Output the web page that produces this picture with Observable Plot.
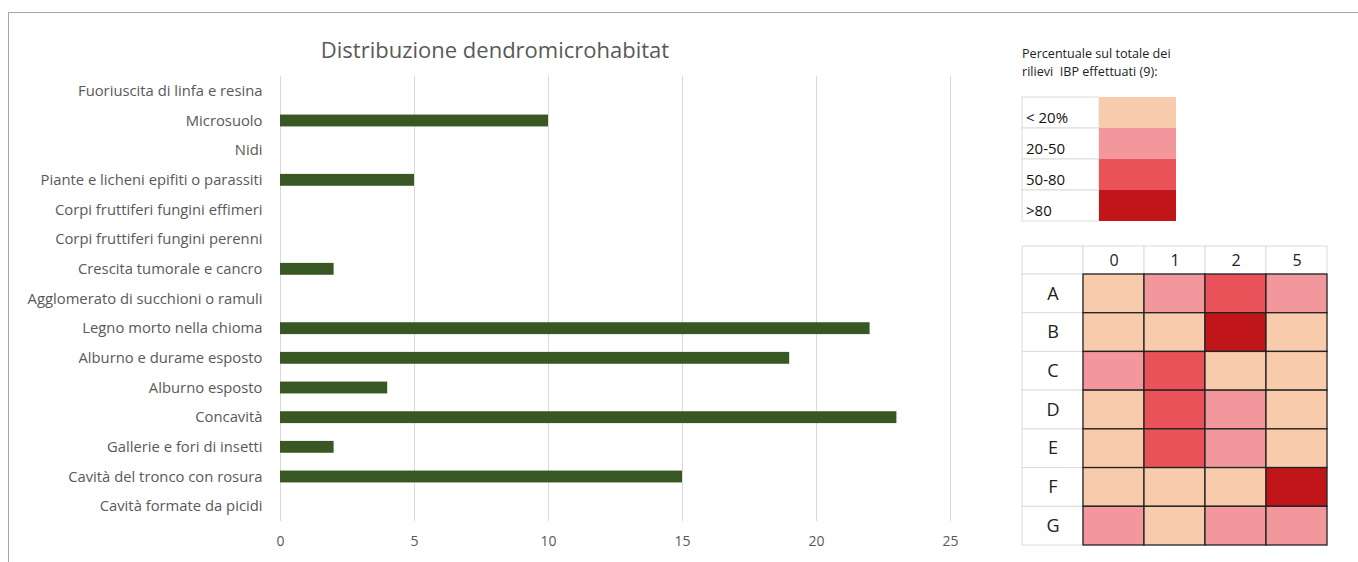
<!DOCTYPE html>
<html><head><meta charset="utf-8">
<script src="https://cdn.jsdelivr.net/npm/d3@7"></script>
<script src="https://cdn.jsdelivr.net/npm/@observablehq/plot@0.6"></script>
<style>
body{margin:0;background:#fff;}
#root{position:relative;width:1358px;height:562px;overflow:hidden;font-family:"Open Sans",sans-serif;background:#fff;}
#frame{position:absolute;left:8px;top:12px;width:1400px;height:600px;border-top:1px solid #a6a6a6;border-left:1px solid #a6a6a6;box-sizing:border-box;}
.abs{position:absolute;}
#title{left:0;width:990px;top:35px;text-align:center;font-size:22px;line-height:28px;color:#595959;}
#note{left:1022px;top:45px;font-size:12.6px;line-height:18px;color:#222;white-space:nowrap;}
svg{overflow:visible;}
</style>
</head><body>
<div id="root">
  <div id="frame"></div>
  <div id="bars" class="abs" style="left:0;top:0"></div>
  <div id="title" class="abs">Distribuzione dendromicrohabitat</div>
  <div id="note" class="abs">Percentuale sul totale dei<br>rilievi&nbsp; IBP effettuati (9):</div>
  <div id="legend" class="abs" style="left:1022px;top:97px"></div>
  <div id="hdr" class="abs" style="left:1022px;top:246px"></div>
  <div id="heat" class="abs" style="left:1022px;top:274px"></div>
</div>
<script>
// ---- data ----
const categories = [
  "Fuoriuscita di linfa e resina",
  "Microsuolo",
  "Nidi",
  "Piante e licheni epifiti o parassiti",
  "Corpi fruttiferi fungini effimeri",
  "Corpi fruttiferi fungini perenni",
  "Crescita tumorale e cancro",
  "Agglomerato di succhioni o ramuli",
  "Legno morto nella chioma",
  "Alburno e durame esposto",
  "Alburno esposto",
  "Concavità",
  "Gallerie e fori di insetti",
  "Cavità del tronco con rosura",
  "Cavità formate da picidi"
];
const counts = [0, 10, 0, 5, 0, 0, 2, 0, 22, 19, 4, 23, 2, 15, 0];
const xTicks = [0, 5, 10, 15, 20, 25];

const legendLabels = ["< 20%", "20-50", "50-80", ">80"];
const legendColors = ["#F8CBAD", "#F2979C", "#E95258", "#C0161A"];

const heatRows = ["A", "B", "C", "D", "E", "F", "G"];
const heatCols = ["0", "1", "2", "5"];
const heatClasses = [
  [0, 1, 2, 1],
  [0, 0, 3, 0],
  [1, 2, 0, 0],
  [0, 2, 1, 0],
  [0, 2, 1, 0],
  [0, 0, 0, 3],
  [1, 0, 1, 1]
];

// ---- bar chart ----
const barData = categories.map((c, i) => ({cat: c, value: counts[i]}));
const bars = Plot.plot({
  width: 1000, height: 562,
  marginLeft: 280, marginRight: 50, marginTop: 76, marginBottom: 41,
  style: {background: "transparent", fontFamily: "Open Sans, sans-serif", fontSize: "14px", color: "#595959", overflow: "visible"},
  x: {domain: [0, 25], ticks: xTicks, tickSize: 0, tickPadding: 15, label: null},
  y: {domain: categories, paddingInner: 0.6, paddingOuter: 0.3, round: false, label: null},
  marks: [
    Plot.gridX(xTicks, {stroke: "#d9d9d9", strokeOpacity: 1}),
    Plot.axisY({tickSize: 0, tickPadding: 18, fontSize: 14.8, label: null}),
    Plot.barX(barData, {x: "value", y: "cat", fill: "#385723"})
  ]
});
document.getElementById("bars").appendChild(bars);

// ---- legend table ----
const legData = legendLabels.map((l, i) => ({label: l, color: legendColors[i]}));
const legend = Plot.plot({
  width: 154, height: 124, margin: 0,
  style: {background: "transparent", fontFamily: "Open Sans, sans-serif", fontSize: "15px", color: "#111", overflow: "visible"},
  x: {domain: ["label", "swatch"], padding: 0, round: false, axis: null},
  y: {domain: legendLabels, padding: 0, round: false, axis: null},
  color: {domain: legendLabels, range: legendColors},
  marks: [
    Plot.cell(legData, {x: () => "label", y: "label", fill: "white", stroke: "#dcdcdc"}),
    Plot.cell(legData, {x: () => "swatch", y: "label", fill: "label"}),
    Plot.text(legData, {x: () => "label", y: "label", text: "label", textAnchor: "start", dx: -35, dy: 5, fill: "#111", fontSize: 15})
  ]
});
document.getElementById("legend").appendChild(legend);

// ---- heatmap header ----
const allCols = [" ", ...heatCols];
const hdrData = allCols.map(c => ({col: c}));
const hdr = Plot.plot({
  width: 305, height: 28, margin: 0,
  style: {background: "transparent", fontFamily: "Open Sans, sans-serif", fontSize: "16px", overflow: "visible"},
  x: {domain: allCols, padding: 0, round: false, axis: null},
  y: {domain: ["h"], padding: 0, round: false, axis: null},
  marks: [
    Plot.cell(hdrData, {x: "col", y: () => "h", fill: "white", stroke: "#dcdcdc"}),
    Plot.text(hdrData, {x: "col", y: () => "h", text: "col", fill: "#222", fontSize: 16})
  ]
});
document.getElementById("hdr").appendChild(hdr);

// ---- heatmap ----
const heatData = [];
heatRows.forEach((r, i) => heatCols.forEach((c, j) => heatData.push({row: r, col: c, cls: legendLabels[heatClasses[i][j]]})));
const rowData = heatRows.map(r => ({row: r}));
const heat = Plot.plot({
  width: 305, height: 271, margin: 0,
  style: {background: "transparent", fontFamily: "Open Sans, sans-serif", fontSize: "18px", overflow: "visible"},
  x: {domain: allCols, padding: 0, round: false, axis: null},
  y: {domain: heatRows, padding: 0, round: false, axis: null},
  color: {domain: legendLabels, range: legendColors},
  marks: [
    Plot.cell(rowData, {x: () => " ", y: "row", fill: "white", stroke: "#dcdcdc"}),
    Plot.text(rowData, {x: () => " ", y: "row", text: "row", fill: "#222", fontSize: 18}),
    Plot.cell(heatData, {x: "col", y: "row", fill: "cls", stroke: "#222", strokeWidth: 1.3})
  ]
});
document.getElementById("heat").appendChild(heat);
</script>
</body></html>
